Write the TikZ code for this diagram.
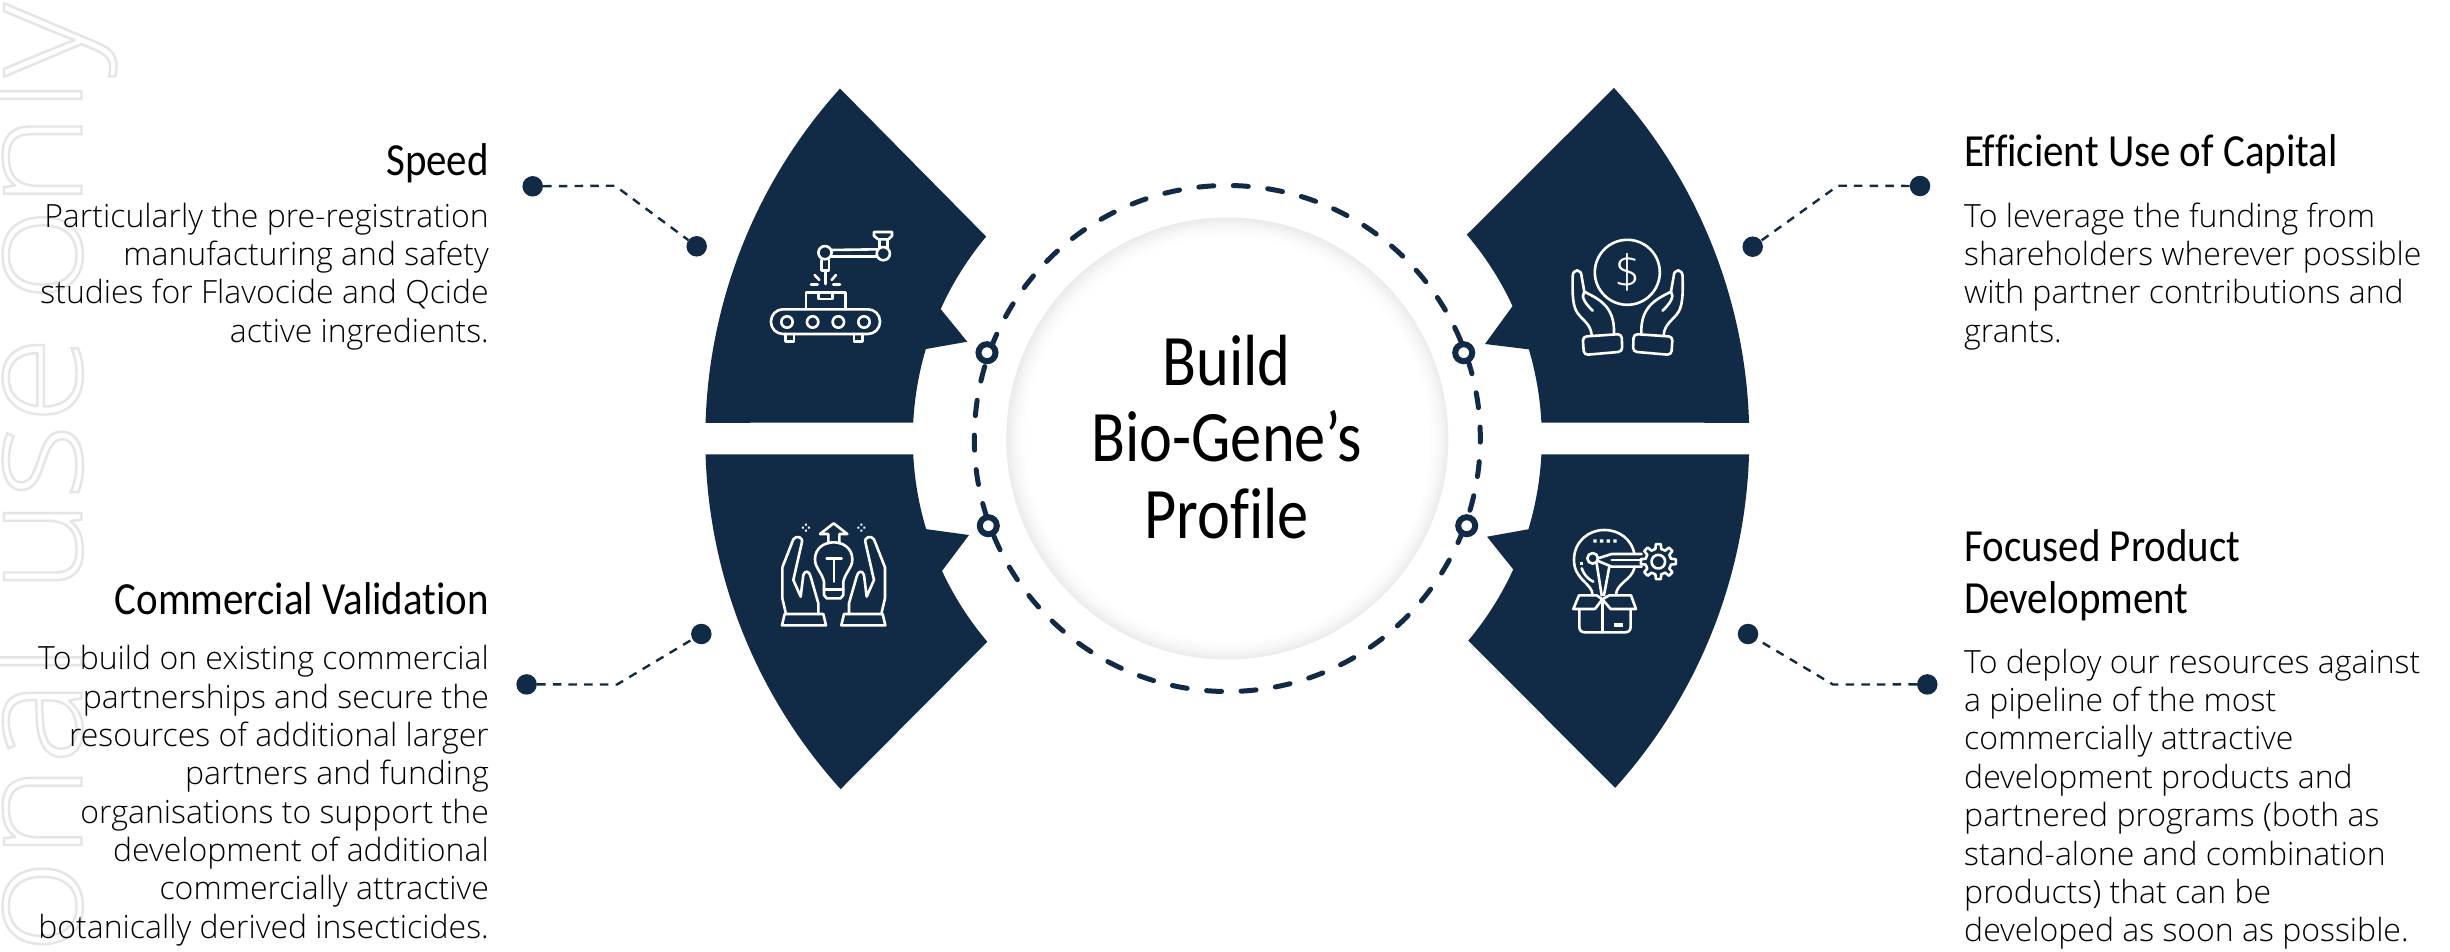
\documentclass[tikz,border=0pt]{standalone}
\usepackage{fontspec}
\setmainfont{Open Sans Light}
\newfontfamily\headf[FakeStretch=0.89,Ligatures=NoCommon]{Carlito}
\newfontfamily\titlef[FakeStretch=0.86,Ligatures=NoCommon]{Carlito}
\newfontfamily\markf[FakeStretch=1.1]{Open Sans Light}
\definecolor{navy}{HTML}{112A46}
\pgfdeclareradialshading{ringshade}{\pgfpoint{0bp}{0bp}}{color(0bp)=(white); color(22.8bp)=(white); color(24bp)=(white!97!black); color(25bp)=(white!92!black); color(50bp)=(white!92!black)}
\tikzset{
  bodytext/.style={inner sep=0pt,font=\fontsize{32}{38.35}\selectfont,text=black},
  bodyleft/.style={bodytext,align=right,anchor=base east},
  bodyright/.style={bodytext,align=left,anchor=base west},
  headtext/.style={inner sep=0pt,font=\headf\fontsize{46}{51.5}\selectfont,text=black},
  leaderdot/.style={circle,fill=navy,inner sep=0pt,minimum size=20.5pt},
  ringdot/.style={circle,draw=navy,line width=6pt,fill=white,inner sep=0pt,minimum size=17pt},
  leader/.style={draw=navy,line width=2.4pt,dash pattern=on 8.5pt off 7.2pt},
  icon/.style={draw=white,line width=2.6pt,line join=round,line cap=round},
}
\newcommand{\petal}[7]{\fill[navy] ([shift={(#1:522pt)}]C) arc[start angle=#1,end angle=#2,radius=522pt] -- ([shift={(#3:314.5pt)}]C) arc[start angle=#3,end angle=#4,radius=314.5pt] -- (#5) -- ([shift={(#6:314.5pt)}]C) arc[start angle=#6,end angle=#7,radius=314.5pt] -- cycle;}
\begin{document}
\begin{tikzpicture}[x=1pt,y=1pt,yscale=-1]
\useasboundingbox (0,0) rectangle (2450,951);
\clip (0,0) rectangle (2450,951);
\fill[white] (0,0) rectangle (2450,951);
\coordinate (C) at (1227.3,438.5);
% watermark
\node[rotate=90,anchor=base east,inner sep=0pt,font=\markf\fontsize{146}{146}\selectfont] (wm) at (81.5,3) {\special{pdf:code q 1 Tr 2.4 w 0.9 G}personal\kern 8pt{} use\kern -8pt{} only\special{pdf:code Q}};
% centre disc with soft inner edge
\shade[shading=ringshade] (C) circle[radius=221pt];
\draw[navy,line width=5pt,line cap=round,dash pattern=on 15pt off 19.55pt] ([shift={(-174.7:253pt)}]C) arc[start angle=-174.7,delta angle=360,radius=253pt];
% petals
\petal{-178.27}{-137.9}{-140.06}{-155.7}{967.3,341.7}{-163.47}{-177.12}
\petal{-1.73}{-42.2}{-40.4}{-24.9}{1485,344}{-16.47}{-2.88}
\petal{178.27}{137.8}{139.74}{155.1}{969,535}{163.25}{177.12}
\petal{1.73}{42}{40}{24.6}{1487,536.7}{16.77}{2.88}
% rings on the dashed circle
\node[ringdot] (r1) at (987,352.7) {};
\node[ringdot] (r2) at (1463.7,352.7) {};
\node[ringdot] (r3) at (988.3,525.7) {};
\node[ringdot] (r4) at (1466.7,525.7) {};
% leaders
\node[leaderdot] (a1) at (532.7,186.3) {};
\node[leaderdot] (b1) at (696.7,246.3) {};
\coordinate (k1) at (615,185.7);
\draw[leader] (a1) -- (k1) -- (b1);
\node[leaderdot] (a2) at (1920,186) {};
\node[leaderdot] (b2) at (1752.7,246.7) {};
\coordinate (k2) at (1838,185.7);
\draw[leader] (a2) -- (k2) -- (b2);
\node[leaderdot] (a3) at (526.6,684.4) {};
\node[leaderdot] (b3) at (701.3,634) {};
\coordinate (k3) at (617,684.5);
\draw[leader] (a3) -- (k3) -- (b3);
\node[leaderdot] (a4) at (1927.3,684.4) {};
\node[leaderdot] (b4) at (1748,634) {};
\coordinate (k4) at (1833,684.5);
\draw[leader] (a4) -- (k4) -- (b4);
% centre title
\node[inner sep=0pt,align=center,anchor=base,font=\titlef\fontsize{72.5}{76.6}\selectfont] (title) at (1226.7,538.3) {Build\\Bio-Gene’s\\Profile};
% left texts
\node[headtext,anchor=base east] (h1) at (489,175) {Speed};
\node[bodyleft] (t1) at (489,342.2) {Particularly the pre-registration\\manufacturing and safety\\studies for Flavocide and Qcide\\active ingredients.};
\node[headtext,anchor=base east] (h3) at (489,614) {Commercial Validation};
\node[bodyleft] (t3) at (489,938.1) {To build on existing commercial\\partnerships and secure the\\resources of additional larger\\partners and funding\\organisations to support the\\development of additional\\commercially attractive\\botanically derived insecticides.};
% right texts
\node[headtext,anchor=base west] (h2) at (1964,166.7) {Efficient Use of Capital};
\node[bodyright] (t2) at (1964,342.3) {To leverage the funding from\\shareholders wherever possible\\with partner contributions and\\grants.};
\node[headtext,anchor=base west,align=left] (h4) at (1964,613) {Focused Product\\Development};
\node[bodyright] (t4) at (1964,941.7) {To deploy our resources against\\a pipeline of the most\\commercially attractive\\development products and\\partnered programs (both as\\stand-alone and combination\\products) that can be\\developed as soon as possible.};
% icon 1: robot arm over conveyor
\begin{scope}[shift={(680,60)},x=0.3333pt,y=0.3333pt,icon]
\draw[rounded corners=12pt] (273,748) rectangle (600,822);
\foreach \q in {321,398,475,552} \draw (\q,786) circle[radius=5.7pt];
\draw (316,822) -- (316,845) -- (342,845) -- (342,822);
\draw (522,822) -- (522,845) -- (548,845) -- (548,822);
\draw (378,748) -- (378,697) -- (496,697) -- (496,748);
\draw (415,697) -- (415,717) -- (458,717) -- (458,697);
\draw (437,635) -- (437,672);
\draw (404,645) -- (418,660);
\draw (468,645) -- (455,660);
\draw (393,673) -- (413,673);
\draw (460,673) -- (480,673);
\draw (435,578) circle[radius=6.6pt];
\draw (610,581) circle[radius=6.6pt];
\draw (455,570) -- (592,568);
\draw (455,590) -- (590,590);
\draw (425,600) -- (425,632) -- (447,632) -- (447,600);
\draw (598,562) -- (598,538);
\draw (622,538) -- (622,565);
\draw (582,516) -- (636,516) -- (636,528) -- (625,538) -- (595,538) -- (582,528) -- cycle;
\end{scope}
% icon 2: hands holding a coin
\begin{scope}[shift={(1400,60)},x=0.3333pt,y=0.3333pt,icon]
\draw (682,637) circle[radius=32.5pt];
\node[inner sep=0pt,text=white,font=\fontsize{46}{46}\selectfont] (dollar) at (682,637) {\$};
\foreach \sx/\off in {1/0,-1/1366} {
\begin{scope}[shift={(\off,0)},xscale=\sx]
\draw[rounded corners=4pt] (548,830) -- (665,822) -- (667,875) -- (552,885) -- cycle;
\draw (575,825) .. controls (572,790) and (545,780) .. (530,755) .. controls (515,730) and (518,680) .. (518,650) .. controls (518,625) and (545,625) .. (545,650) -- (553,695) .. controls (590,715) and (645,735) .. (642,820);
\draw (553,695) .. controls (540,710) and (560,735) .. (578,752);
\end{scope}
}
\end{scope}
% icon 3: hands holding a lamp
\begin{scope}[shift={(680,440)},x=0.3333pt,y=0.3333pt,icon]
\foreach \sx/\off in {1/0,-1/922} {
\begin{scope}[shift={(\off,0)},xscale=\sx]
\draw (314,522) -- (430,522) -- (438,556) -- (306,556) -- cycle;
\draw (318,522) -- (307,475) -- (307,382) -- (340,298) .. controls (348,285) and (372,290) .. (365,310) -- (340,420) -- (362,470) -- (370,405) .. controls (375,390) and (388,392) .. (392,410) -- (415,490) -- (415,522);
\fill[white] (375,251) rectangle (381,257) (366,260) rectangle (372,266) (384,260) rectangle (390,266) (375,269) rectangle (381,275);
\end{scope}
}
\draw (432,425) .. controls (425,395) and (405,385) .. (405,358) .. controls (405,290) and (517,290) .. (517,358) .. controls (517,385) and (497,395) .. (490,425) -- (490,465) -- (482,475) -- (440,475) -- (432,465) -- cycle;
\draw (432,448) -- (490,448);
\draw (440,355) -- (485,355);
\draw (462,355) -- (462,425);
\draw (445,310) -- (445,282) -- (420,282) -- (461,250) -- (502,282) -- (478,282) -- (478,310);
\end{scope}
% icon 4: lamp in a box with pencil and gear
\begin{scope}[shift={(1400,440)},x=0.3333pt,y=0.3333pt,icon]
\draw (538,508) -- (538,560) .. controls (538,572) and (545,577) .. (555,577) -- (675,577) .. controls (685,577) and (692,572) .. (692,560) -- (692,508);
\draw (607,478) -- (607,577);
\draw (537,466) -- (520,507) -- (585,507) -- (607,478) -- (590,466) -- cycle;
\draw (693,466) -- (708,507) -- (632,507) -- (607,478) -- (628,466) -- cycle;
\fill[white] (642,549) rectangle (670,560);
\draw (578,466) .. controls (578,430) and (522,420) .. (522,360) .. controls (522,305) and (565,270) .. (613,270) .. controls (660,270) and (695,300) .. (703,340);
\draw (703,385) .. controls (695,420) and (648,430) .. (648,466);
\fill[white] (580,298) rectangle (590,308) (600,298) rectangle (610,308) (620,298) rectangle (630,308) (640,298) rectangle (650,308);
\draw (545,385) .. controls (552,405) and (565,418) .. (580,425);
\fill[white] (541,366) rectangle (549,374);
\draw (578,355) circle[radius=5.3pt];
\draw (594,355) -- (635,342) -- (725,342);
\draw (592,362) -- (635,380) -- (725,380);
\draw (635,360) -- (725,360);
\draw (590,370) -- (605,466);
\draw (628,380) -- (612,466);
\begin{scope}[shift={(775,365)}]
\draw (0,0) circle[radius=6.8pt];
\draw (-13:39) \foreach \k in {0,45,...,315} { -- (\k-13:39) -- (\k-8:53) -- (\k+8:53) -- (\k+13:39) } -- cycle;
\end{scope}
\end{scope}
\end{tikzpicture}
\end{document}
